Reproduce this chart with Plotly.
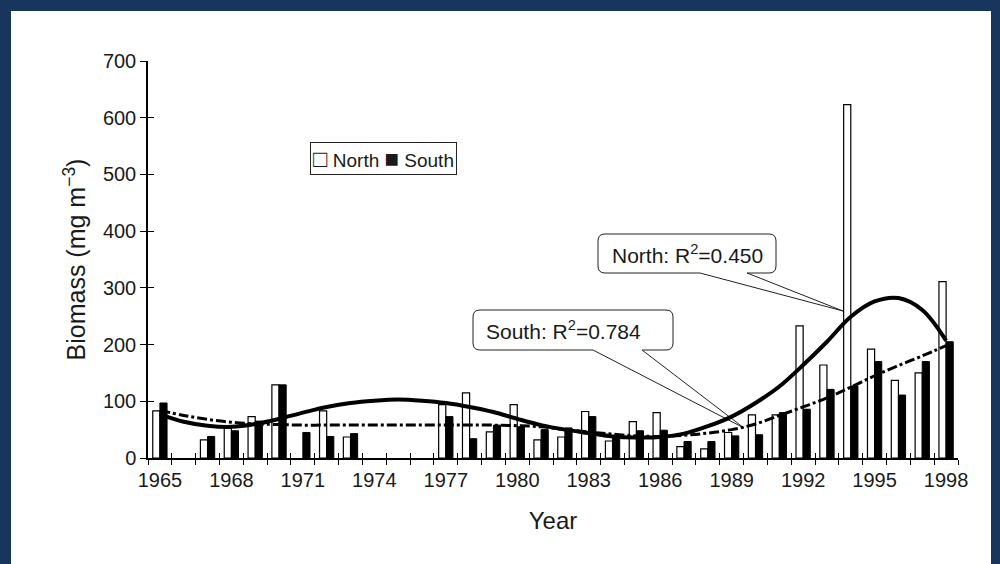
import plotly.graph_objects as go

# ---------------- data ----------------
years = list(range(1965, 1999))

north = [83, None, 32, 53, 73, 129, None, 83, 37, None, None, None,
         94, 115, 46, 94, 32, 37, 82, 30, 64, 80, 20, 16, 45, 76,
         76, 233, 164, 623, 192, 137, 150, 311]

south = [97, None, 38, 48, 65, 129, 45, 38, 43, None, None, None,
         73, 34, 58, 55, 50, 53, 73, 35, 48, 49, 29, 29, 39, 41,
         80, 86, 121, 127, 170, 111, 170, 205]

north_trend = [77, 64, 57, 55, 60, 69, 80, 90, 97, 101, 103, 101,
               97, 90, 81, 69, 58, 50, 44, 38, 36, 37, 43, 56, 73, 97,
               126, 164, 205, 249, 276, 282, 261, 207]

south_trend = [84, 75, 68, 63, 60, 59, 58, 58, 58, 58, 58, 58,
               58, 58, 58, 57, 55, 50, 46, 42, 39, 38, 40, 44, 50, 60,
               75, 90, 106, 125, 145, 163, 180, 198]

label_years = [1965, 1968, 1971, 1974, 1977, 1980, 1983, 1986, 1989, 1992, 1995, 1998]
y_ticks = [0, 100, 200, 300, 400, 500, 600, 700]

# ---------------- layout geometry ----------------
W, H = 1000, 564
ML, MR, MT, MB = 148, 42, 61, 106
XR = [1964.5, 1998.5]
YR = [0, 700]
PW = W - ML - MR
PH = H - MT - MB

def X(px):
    return XR[0] + (px - ML) * (XR[1] - XR[0]) / PW

def Y(py):
    return YR[0] + (MT + PH - py) * (YR[1] - YR[0]) / PH

def bubble(x0, y0, x1, y1, bx0, bx1, tx, ty, r=7):
    pts = [
        ("M", [(x0 + r, y0)]),
        ("L", [(x1 - r, y0)]),
        ("Q", [(x1, y0), (x1, y0 + r)]),
        ("L", [(x1, y1 - r)]),
        ("Q", [(x1, y1), (x1 - r, y1)]),
        ("L", [(bx1, y1)]),
        ("L", [(tx, ty)]),
        ("L", [(bx0, y1)]),
        ("L", [(x0 + r, y1)]),
        ("Q", [(x0, y1), (x0, y1 - r)]),
        ("L", [(x0, y0 + r)]),
        ("Q", [(x0, y0), (x0 + r, y0)]),
    ]
    s = ""
    for cmd, ps in pts:
        s += cmd + " " + " ".join(f"{X(a):.4f},{Y(b):.4f}" for a, b in ps) + " "
    return s + "Z"

FONT = "Liberation Sans, Arial, sans-serif"
TXT = "#1a1a1a"

fig = go.Figure()

fig.add_trace(go.Bar(x=years, y=north, name="North",
                     marker=dict(color="white", line=dict(color="black", width=1.2)),
                     showlegend=False))
fig.add_trace(go.Bar(x=years, y=south, name="South",
                     marker=dict(color="black", line=dict(color="black", width=1)),
                     showlegend=False))
# trend lines are drawn on the overlaying axes (same fixed ranges) so those axes render
fig.add_trace(go.Scatter(x=years, y=south_trend, mode="lines", line_shape="spline",
                         xaxis="x2", yaxis="y2",
                         line=dict(color="black", width=3, dash="10px,3px,3px,3px"),
                         showlegend=False))
fig.add_trace(go.Scatter(x=years, y=north_trend, mode="lines", line_shape="spline",
                         xaxis="x3", yaxis="y2",
                         line=dict(color="black", width=4),
                         showlegend=False))

shapes = [
    dict(type="rect", xref="paper", yref="paper",
         x0=(11 - ML) / PW, x1=(991 - ML) / PW,
         y0=-0.4, y1=(MT + PH - 11) / PH,
         fillcolor="white", line=dict(width=0), layer="below"),
    dict(type="path", xref="x", yref="y",
         path=bubble(598, 234, 776, 273, 700, 747, 843, 311),
         fillcolor="white", line=dict(color="#222", width=1), layer="below"),
    dict(type="path", xref="x", yref="y",
         path=bubble(473, 310, 673, 350, 593, 642, 744, 428),
         fillcolor="white", line=dict(color="#222", width=1), layer="below"),
]

SQ = "<span style='font-size:24px'>{}</span>"
annotations = [
    dict(text=SQ.format("\u25a1") + " North " + SQ.format("\u25a0") + " South",
         x=X(383), y=Y(158), xref="x", yref="y",
         showarrow=False, font=dict(family=FONT, size=19, color=TXT),
         bordercolor="#222", borderwidth=1, borderpad=2, bgcolor="white"),
    dict(text="North: R<sup>2</sup>=0.450", x=X(687), y=Y(254), xref="x", yref="y",
         showarrow=False, font=dict(family=FONT, size=21, color=TXT)),
    dict(text="South: R<sup>2</sup>=0.784", x=X(563), y=Y(330), xref="x", yref="y",
         showarrow=False, font=dict(family=FONT, size=21, color=TXT)),
]

fig.update_layout(
    width=W, height=H,
    margin=dict(l=ML, r=MR, t=MT, b=MB, pad=0),
    paper_bgcolor="#17355d",
    plot_bgcolor="white",
    barmode="group", bargap=0.4, bargroupgap=0,
    font=dict(family=FONT, color=TXT),
    shapes=shapes, annotations=annotations,
    xaxis=dict(range=XR, tickmode="linear", tick0=1964.5, dtick=1,
               ticks="outside", ticklen=5, tickwidth=1.3, tickcolor="black",
               showticklabels=False, showline=True, linecolor="black", linewidth=1.5,
               showgrid=False, zeroline=False),
    xaxis2=dict(range=XR, overlaying="x", anchor="y", side="bottom",
                tickmode="linear", tick0=1964.5, dtick=1,
                ticks="inside", ticklen=5, tickwidth=1.3, tickcolor="black",
                showticklabels=False, showline=False, showgrid=False, zeroline=False),
    xaxis3=dict(range=XR, overlaying="x", anchor="y", side="bottom",
                tickmode="array", tickvals=label_years, ticktext=[str(v) for v in label_years],
                ticks="", showline=False, showgrid=False, zeroline=False,
                ticklabelstandoff=8,
                tickfont=dict(family=FONT, size=20, color=TXT),
                title=dict(text="Year", font=dict(family=FONT, size=24, color=TXT), standoff=22)),
    yaxis=dict(range=YR, tickmode="array", tickvals=y_ticks,
               ticks="outside", ticklen=6, tickwidth=1.3, tickcolor="black",
               showline=True, linecolor="black", linewidth=1.5,
               showgrid=False, zeroline=False,
               tickfont=dict(family=FONT, size=20, color=TXT),
               title=dict(text="Biomass (mg m<sup>\u22123</sup>)",
                          font=dict(family=FONT, size=25, color=TXT), standoff=10)),
    yaxis2=dict(range=YR, overlaying="y", anchor="x", side="left",
                tickmode="array", tickvals=y_ticks,
                ticks="inside", ticklen=6, tickwidth=1.3, tickcolor="black",
                showticklabels=False, showline=False, showgrid=False, zeroline=False),
)

fig.write_html("out.html")
